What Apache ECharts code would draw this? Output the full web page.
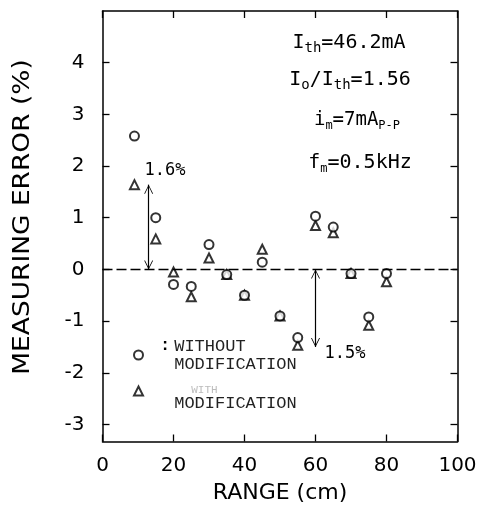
<!DOCTYPE html>
<html><head><meta charset="utf-8">
<script src="https://cdn.jsdelivr.net/npm/echarts@6/dist/echarts.min.js"></script>
<style>html,body{margin:0;padding:0;background:#fff}#c{width:486px;height:512px}</style>
</head><body><div id="c"></div>
<script>
// ---- data ----
const ranges = [9, 15, 20, 25, 30, 35, 40, 45, 50, 55, 60, 65, 70, 75, 80];
const withoutMod = [2.58, 1.0, -0.29, -0.33, 0.48, -0.1, -0.5, 0.14, -0.9, -1.32, 1.03, 0.82, -0.08, -0.92, -0.08];
const withMod = [1.64, 0.59, -0.05, -0.53, 0.22, -0.1, -0.5, 0.39, -0.9, -1.47, 0.85, 0.71, -0.08, -1.08, -0.24];
const yTicks = [-3, -2, -1, 0, 1, 2, 3, 4];
const seriesNames = ['WITHOUT MODIFICATION', 'WITH MODIFICATION'];
const xTitle = 'RANGE (cm)';
const yTitle = 'MEASURING ERROR (%)';
const arrow1 = { x: 13, from: 1.64, to: 0, label: '1.6%', lx: 17.6, ly: 1.91 };
const arrow2 = { x: 60, from: 0, to: -1.5, label: '1.5%', lx: 68.3, ly: -1.62 };

const pair = (xs, ys) => xs.map((x, i) => [x, ys[i]]);
const mono = 'DejaVu Sans Mono';
const plot = 'DejaVu Sans';
const lmono = 'Liberation Mono';
const head = 'path://M5,-9L5,-9M5,0L10,9L9,9L5,1.6L1,9L0,9Z';

const chart = echarts.init(document.getElementById('c'), null, { renderer: 'canvas' });
const axisLine = { show: true, onZero: false, lineStyle: { color: '#000', width: 1.5 } };
const tickIn = { show: true, inside: true, length: 7, lineStyle: { color: '#000', width: 1.3 } };
const sub = (fs) => ({ fontFamily: mono, fontSize: fs, lineHeight: 10, verticalAlign: 'bottom', fill: '#000' });
const main = (fs) => ({ fontFamily: mono, fontSize: fs, lineHeight: 24, fill: '#000' });

chart.setOption({
  animation: false,
  backgroundColor: '#fff',
  grid: { left: 102.5, right: 28.5, top: 11, bottom: 70.5 },
  xAxis: [
    { type: 'value', min: 0, max: 100, interval: 20, position: 'bottom',
      axisLine, axisTick: tickIn, splitLine: { show: false },
      axisLabel: { color: '#000', fontFamily: plot, fontSize: 20, margin: 14 },
      name: xTitle, nameLocation: 'middle', nameGap: 41,
      nameTextStyle: { color: '#000', fontFamily: plot, fontSize: 22 } },
    { type: 'value', min: 0, max: 100, interval: 20, position: 'top',
      axisLine, axisTick: tickIn, splitLine: { show: false }, axisLabel: { show: false } }
  ],
  yAxis: [
    { type: 'value', min: -3.33, max: 5, position: 'left',
      axisLine, splitLine: { show: false },
      axisTick: Object.assign({ customValues: yTicks }, tickIn),
      axisLabel: { customValues: yTicks, color: '#000', fontFamily: plot, fontSize: 20, margin: 18 } },
    { type: 'value', min: -3.33, max: 5, position: 'right',
      axisLine, splitLine: { show: false },
      axisTick: Object.assign({ customValues: yTicks }, tickIn),
      axisLabel: { show: false } }
  ],
  legend: {
    orient: 'vertical', left: 133, top: 337, padding: 0, itemWidth: 9, itemHeight: 9, itemGap: 5,
    data: [ { name: seriesNames[0] }, { name: seriesNames[1] } ],
    formatter: function (n) {
      if (n === seriesNames[0]) return '{c|:}{t|WITHOUT}\n{s| }{t|MODIFICATION}';
      return '{s2| }{f|WITH}\n{s3| }{t2|MODIFICATION}';
    },
    textStyle: {
      color: '#000', fontFamily: lmono, fontSize: 17, lineHeight: 18,
      rich: {
        c: { fontFamily: lmono, fontSize: 17, fontWeight: 'bold', padding: [0, 4, 0, 12], color: '#000' },
        s: { fontFamily: lmono, fontSize: 17, padding: [0, 4, 0, 12] },
        t: { fontFamily: lmono, fontSize: 17, color: '#222' },
        s2: { fontFamily: lmono, fontSize: 17, lineHeight: 24, padding: [0, 4, 0, 12] },
        f: { fontFamily: lmono, fontSize: 11, lineHeight: 24, color: '#bbb', padding: [0, 0, 0, 17] },
        s3: { fontFamily: lmono, fontSize: 17, lineHeight: 2, padding: [0, 4, 0, 12] },
        t2: { fontFamily: lmono, fontSize: 17, lineHeight: 2, color: '#222' }
      }
    }
  },
  series: [
    { name: seriesNames[1], type: 'scatter', data: pair(ranges, withMod),
      symbol: 'emptyTriangle', symbolSize: 9, color: '#000',
      itemStyle: { borderWidth: 1.4 }, z: 3,
      markLine: {
        silent: true, symbol: [head, head], symbolSize: [9, 18],
        lineStyle: { color: '#000', width: 1.2, type: 'solid' }, label: { show: false },
        data: [
          [{ coord: [arrow1.x, arrow1.from] }, { coord: [arrow1.x, arrow1.to] }],
          [{ coord: [arrow2.x, arrow2.from] }, { coord: [arrow2.x, arrow2.to] }]
        ]
      },
      markPoint: {
        silent: true, symbol: 'circle', symbolSize: 1, itemStyle: { color: 'rgba(0,0,0,0)' },
        label: { show: true, position: 'inside', color: '#000', fontFamily: mono, fontSize: 17 },
        data: [
          { coord: [arrow1.lx, arrow1.ly], value: arrow1.label, label: { formatter: arrow1.label } },
          { coord: [arrow2.lx, arrow2.ly], value: arrow2.label, label: { formatter: arrow2.label } }
        ]
      }
    },
    { name: seriesNames[0], type: 'scatter', data: pair(ranges, withoutMod),
      symbol: 'emptyCircle', symbolSize: 9, color: '#000',
      itemStyle: { borderWidth: 1.4 }, z: 4,
      markLine: {
        silent: true, symbol: ['none', 'none'],
        lineStyle: { color: '#000', width: 1.3, type: [10, 4] }, label: { show: false },
        data: [[{ coord: [0, 0] }, { coord: [100, 0] }]]
      }
    }
  ],
  graphic: [
    { type: 'text', x: 23, y: 217, rotation: Math.PI / 2, scaleX: 1.15, style: {
        text: yTitle, fontFamily: plot, fontSize: 23, fill: '#000', align: 'center', verticalAlign: 'middle' } },
    { type: 'text', x: 349, y: 43, style: {
        text: '{m|I}{s|th}{m|=46.2mA}', align: 'center', verticalAlign: 'middle',
        rich: { m: main(20), s: sub(14) } } },
    { type: 'text', x: 350, y: 80, style: {
        text: '{m|I}{s|o}{m|/I}{s|th}{m|=1.56}', align: 'center', verticalAlign: 'middle',
        rich: { m: main(20), s: sub(14) } } },
    { type: 'text', x: 357, y: 120, style: {
        text: '{m|i}{s|m}{m|=7mA}{s|P-P}', align: 'center', verticalAlign: 'middle',
        rich: { m: main(19), s: sub(12) } } },
    { type: 'text', x: 360, y: 163, style: {
        text: '{m|f}{s|m}{m|=0.5kHz}', align: 'center', verticalAlign: 'middle',
        rich: { m: main(20), s: sub(12) } } }
  ]
});
</script>
</body></html>
